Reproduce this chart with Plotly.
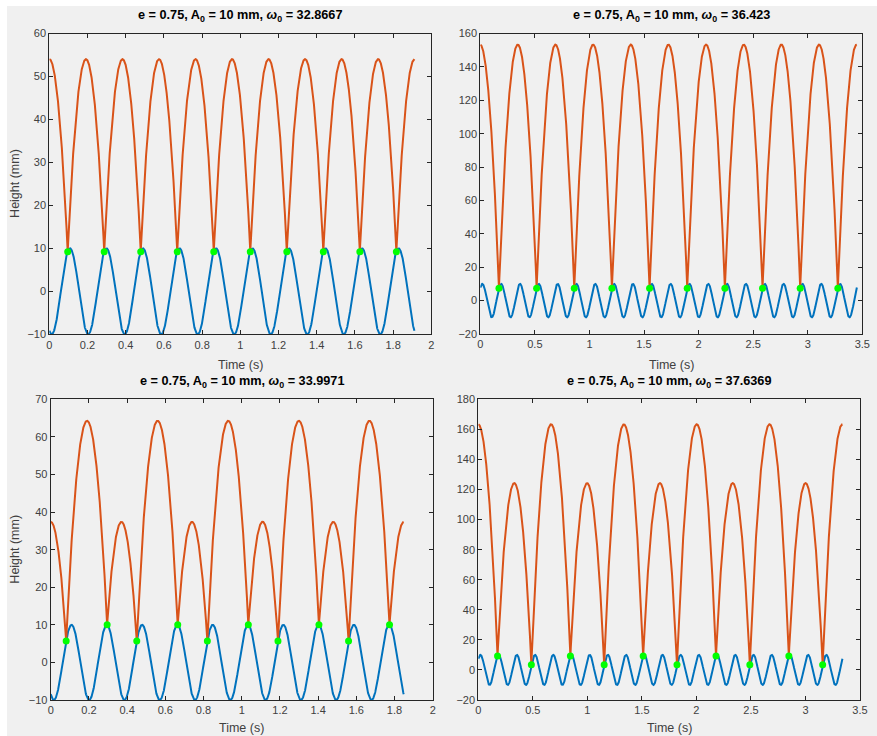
import numpy as np
import plotly.graph_objects as go

# ---------------- data ----------------
A0 = 10.0            # plate amplitude (mm)
G = 9810.0           # gravity (mm/s^2)
E = 0.75

omegas = [32.8667, 36.423, 33.9971, 37.6369]
n_periods = [10, 20, 10, 20]              # length of time window in plate periods
plate_peak_t = [-0.0831, 0.0185, 0.2937, 0.0193]   # time of a plate maximum (s)

# impact times (s) and heights (mm); first/last entries lie just outside the window
impact_t_1 = [-0.0949, 0.0963, 0.2875, 0.4787, 0.6699, 0.8611, 1.0523, 1.2435,
              1.4347, 1.6259, 1.8171, 2.0083]
impact_h_1 = [9.2] * 12

impact_t_2 = [-0.174, 0.171, 0.516, 0.861, 1.206, 1.551, 1.896, 2.241, 2.586,
              2.931, 3.276, 3.621]
impact_h_2 = [7.4] * 12

impact_t_3 = [-0.0741, 0.0810, 0.2955, 0.4506, 0.6651, 0.8202, 1.0347, 1.1899,
              1.4044, 1.5595, 1.7740, 1.9291]
impact_h_3 = [10.0, 5.7, 10.0, 5.7, 10.0, 5.7, 10.0, 5.7, 10.0, 5.7, 10.0, 5.7]

impact_t_4 = [-0.1813, 0.1765, 0.4865, 0.8443, 1.1543, 1.5120, 1.8220, 2.1798,
              2.4898, 2.8476, 3.1576, 3.5154]
impact_h_4 = [3.5, 9.3, 3.5, 9.3, 3.5, 9.3, 3.5, 9.3, 3.5, 9.3, 3.5, 9.3]

impact_t = [impact_t_1, impact_t_2, impact_t_3, impact_t_4]
impact_h = [impact_h_1, impact_h_2, impact_h_3, impact_h_4]

x_ranges = [[0, 2], [0, 3.5], [0, 2], [0, 3.5]]
x_dticks = [0.2, 0.5, 0.2, 0.5]
y_ranges = [[-10, 60], [-20, 160], [-10, 70], [-20, 180]]
y_dticks = [10, 20, 10, 20]

titles = [f"<b>e = {E}, A<sub>0</sub> = 10 mm, <i>ω</i><sub>0</sub> = {w}</b>" for w in omegas]

# ---------------- layout geometry (pixels of 877x736 page) ----------------
W, H = 877, 736
axes_px = [  # left, right, top, bottom
    (49.3, 431.3, 33.5, 334.3),
    (480.3, 862.3, 33.5, 334.0),
    (50.7, 432.7, 399.3, 700.0),
    (478.3, 860.0, 399.3, 700.0),
]
xlabel_gap = [31, 31, 28, 28]

BLUE = "#0072BD"
ORANGE = "#D95319"
GREEN = "#00FF00"
FONT = "Liberation Sans, Arial, sans-serif"
TXT = "#404040"
AXC = "#262626"

fig = go.Figure()

for i in range(4):
    w = omegas[i]
    T = 2 * np.pi / w
    t_end = n_periods[i] * T
    xa = "x" if i == 0 else f"x{i+1}"
    ya = "y" if i == 0 else f"y{i+1}"

    # plate
    tp = np.linspace(0, t_end, 2500)
    yp = A0 * np.cos(w * (tp - plate_peak_t[i]))
    fig.add_trace(go.Scatter(x=tp, y=yp, mode="lines", line=dict(color=BLUE, width=2),
                             xaxis=xa, yaxis=ya, showlegend=False, hoverinfo="skip"))

    # ball: ballistic arcs between successive impacts
    bt, bh = [], []
    ti, hi = impact_t[i], impact_h[i]
    for k in range(len(ti) - 1):
        t0, t1 = ti[k], ti[k + 1]
        h0, h1 = hi[k], hi[k + 1]
        tau = t1 - t0
        v0 = (h1 - h0 + 0.5 * G * tau ** 2) / tau
        ts = np.linspace(t0, t1, 400)
        hs = h0 + v0 * (ts - t0) - 0.5 * G * (ts - t0) ** 2
        m = (ts >= 0) & (ts <= t_end)
        bt.extend(ts[m].tolist())
        bh.extend(hs[m].tolist())
    fig.add_trace(go.Scatter(x=bt, y=bh, mode="lines", line=dict(color=ORANGE, width=2),
                             xaxis=xa, yaxis=ya, showlegend=False, hoverinfo="skip"))

    # impact markers
    it = [t for t in ti if 0 <= t <= t_end]
    ih = [h for t, h in zip(ti, hi) if 0 <= t <= t_end]
    fig.add_trace(go.Scatter(x=it, y=ih, mode="markers",
                             marker=dict(color=GREEN, size=7, line=dict(width=0)),
                             xaxis=xa, yaxis=ya, showlegend=False, hoverinfo="skip"))

    l, r, t, b = axes_px[i]
    axis_common = dict(showline=True, linecolor=AXC, linewidth=1, mirror="ticks",
                       ticks="inside", ticklen=4, tickcolor=AXC, showgrid=False,
                       zeroline=False, automargin=False,
                       tickfont=dict(family=FONT, size=11, color=TXT))
    xkey = "xaxis" if i == 0 else f"xaxis{i+1}"
    ykey = "yaxis" if i == 0 else f"yaxis{i+1}"
    fig.update_layout(**{
        xkey: dict(domain=[l / W, r / W], anchor=ya, range=x_ranges[i], dtick=x_dticks[i],
                   tick0=0, **axis_common),
        ykey: dict(domain=[1 - b / H, 1 - t / H], anchor=xa, range=y_ranges[i],
                   dtick=y_dticks[i], tick0=0, **axis_common),
    })

    cx = (l + r) / 2 / W
    # title
    fig.add_annotation(x=cx, y=1 - (t - 17) / H, xref="paper", yref="paper",
                       text=titles[i], showarrow=False, xanchor="center", yanchor="middle",
                       font=dict(family=FONT, size=12.7, color="#000000"))
    # x label
    fig.add_annotation(x=cx, y=1 - (b + xlabel_gap[i]) / H, xref="paper", yref="paper",
                       text="Time (s)", showarrow=False, xanchor="center", yanchor="middle",
                       font=dict(family=FONT, size=12.5, color=TXT))
    if i in (0, 2):
        fig.add_annotation(x=15 / W, y=1 - (t + b) / 2 / H, xref="paper", yref="paper",
                           text="Height (mm)", showarrow=False, textangle=-90,
                           xanchor="center", yanchor="middle",
                           font=dict(family=FONT, size=12.5, color=TXT))

# gray figure backgrounds with white outer strip
fig.add_shape(type="rect", xref="paper", yref="paper", x0=7 / W, x1=1, y0=0, y1=1 - 6 / H,
              fillcolor="#F0F0F0", line=dict(width=0), layer="below")

fig.update_layout(width=W, height=H, margin=dict(l=0, r=0, t=0, b=0, pad=0),
                  paper_bgcolor="#FFFFFF", plot_bgcolor="#FFFFFF")

fig.write_html("out.html", config={"displayModeBar": False},
               post_script="document.body.style.margin='0';document.body.style.overflow='hidden';")
